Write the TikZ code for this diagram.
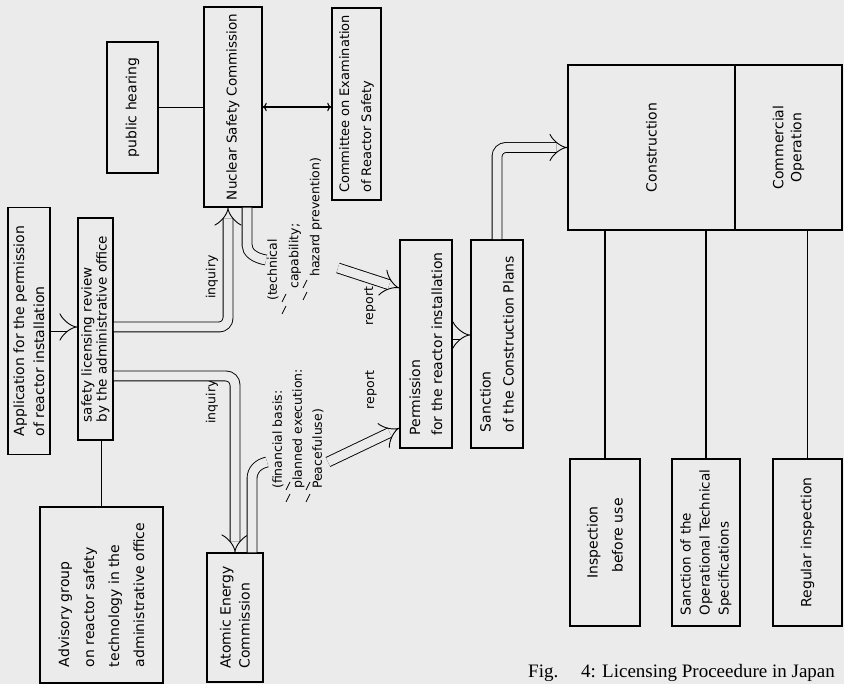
\documentclass[tikz,border=0pt]{standalone}
\usepackage{fontspec}
\setmainfont{DejaVu Sans}
\newfontfamily\capfont{Liberation Serif}
\usetikzlibrary{arrows.meta,calc}
\definecolor{paper}{gray}{0.92}

\begin{document}
\begin{tikzpicture}[
    x=1pt, y=-1pt,
    box/.style={draw, line width=1.5pt, rotate=90, align=left, inner sep=1pt, font=\fontsize{14}{20}\selectfont},
    lbl/.style={rotate=90, inner sep=1pt, align=left, font=\fontsize{12.5}{20}\selectfont},
    pipe/.style={line width=0.9pt, double=paper, double distance=9pt, rounded corners=9pt},
    conn/.style={line width=1.1pt},
]
\fill[paper] (0,0) rectangle (844,684);
\useasboundingbox (0,0) rectangle (844,684);

% boxes are turned by 90 degrees: minimum width is the height on the page
\node[box, minimum width=247, minimum height=42] (app) at (29,331) {Application for the permission\\of reactor installation};
\node[box, minimum width=222, minimum height=35, font=\fontsize{13.5}{15}\selectfont] (safety) at (95.5,329) {safety licensing review\\by the administrative office};
\node[box, minimum width=176, minimum height=123, font=\fontsize{14}{25}\selectfont] (advisory) at (101.5,595) {Advisory group\\on reactor safety\\technology in the\\administrative office};
\node[box, minimum width=129, minimum height=56, font=\fontsize{14}{19}\selectfont] (aec) at (235,617.5) {Atomic Energy\\Commission};
\node[box, minimum width=131, minimum height=51] (hearing) at (132.5,107.5) {public hearing};
\node[box, minimum width=200, minimum height=58, font=\fontsize{13.5}{20}\selectfont] (nsc) at (233,107) {Nuclear Safety Commission};
\node[box, minimum width=192, minimum height=49, font=\fontsize{13}{22}\selectfont] (committee) at (356.5,104) {Committee on Examination\\of Reactor Safety};
\node[box, minimum width=208, minimum height=52, font=\fontsize{14}{22}\selectfont] (permit) at (426,344) {Permission\\for the reactor installation};
\node[box, minimum width=208, minimum height=52, font=\fontsize{14}{23}\selectfont] (sanction) at (497,344) {Sanction\\of the Construction Plans};
\node[box, minimum width=165, minimum height=167, align=center] (constr) at (651.5,147.5) {Construction};
\node[box, minimum width=165, minimum height=107, align=center, font=\fontsize{14}{18}\selectfont] (commop) at (788.5,147.5) {Commercial\\Operation};
\node[box, minimum width=167, minimum height=70, align=center, font=\fontsize{14}{25}\selectfont] (insp) at (605,542.5) {Inspection\\\quad before use};
\node[box, minimum width=167, minimum height=68, font=\fontsize{13.5}{19}\selectfont] (opspec) at (706,542.5) {Sanction of the\\Operational Technical\\Specifications};
\node[box, minimum width=167, minimum height=69] (regular) at (807.5,542.5) {Regular inspection};

% labels on the flows
\node[lbl] (inq1) at (212,277) {inquiry};
\node[lbl] (inq2) at (212,402) {inquiry};
\node[lbl, anchor=west] (tech1) at (273,302) {(technical};
\node[lbl, anchor=west] (tech2) at (295,290) {capability;};
\node[lbl, anchor=west] (tech3) at (316,278) {hazard prevention)};
\node[lbl, anchor=west] (fin) at (298,490) {(financial basis:\\planned execution:\\Peacefuluse)};
\node[lbl] (rep1) at (370,306) {report};
\node[lbl] (rep2) at (371,390) {report};

\node[anchor=base west, inner sep=0pt, font=\capfont\fontsize{19}{22}\selectfont] (caption) at (528,677) {Fig.\hspace{1.2em}4: Licensing Proceedure in Japan};

% double flows
\draw[pipe, -{Implies}] (app.south |- 0,327) -- (safety.north |- 0,327);
\draw[pipe, -{Implies}] (safety.south |- 0,327) -| (228,0 |- nsc.west);
\draw[pipe, -{Implies}] (safety.south |- 0,376) -| (235,0 |- aec.east);
\draw[pipe] (247,0 |- nsc.west) -- (247,236) .. controls (247,252) and (254,258) .. (266,260);
\draw[pipe] (252,0 |- aec.east) -- (252,488) .. controls (252,470) and (258,464) .. (267,462);
\coordinate (nscout) at (338,268);
\coordinate (aecout) at (328,462);
\draw[pipe, -{Implies}] (nscout) -- (permit.north |- 0,288);
\draw[pipe, -{Implies}] (aecout) -- (permit.north |- 0,428);
\draw[pipe, -{Implies}] (permit.south |- 0,335) -- (sanction.north |- 0,335);
\draw[pipe, -{Implies}] (sanction.east) |- (constr.north);

% slash marks between the label lines
\foreach \sx/\sy in {284/310, 284/298, 305/296, 305/284, 288/498, 288/486, 308/498, 308/486}
  \draw[line width=0.8pt] (\sx-2,\sy+4) -- (\sx+2,\sy-4);

% single lines
\draw[conn] (safety.west -| advisory.east) -- (advisory.east);
\draw[conn] (hearing.south) -- (hearing.south -| nsc.north);
\draw[conn, {To}-{To}] (nsc.south) -- (nsc.south -| committee.north);
\draw[conn] (constr.west -| insp.east) -- (insp.east);
\draw[conn] (constr.west -| opspec.east) -- (opspec.east);
\draw[conn] (commop.west -| regular.east) -- (regular.east);
\end{tikzpicture}
\end{document}
